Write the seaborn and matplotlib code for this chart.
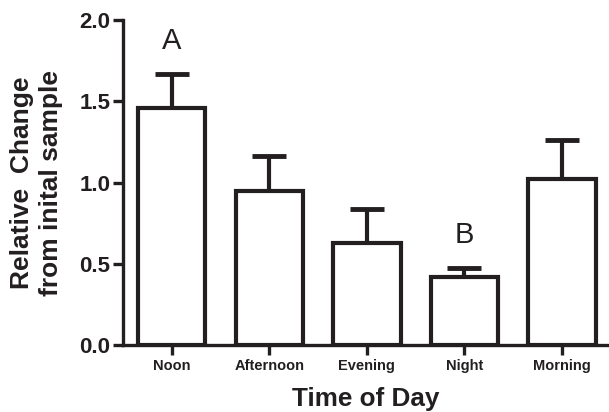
import numpy as np
import pandas as pd
import matplotlib
matplotlib.use("Agg")
import matplotlib.pyplot as plt
import seaborn as sns

categories = ["Noon", "Afternoon", "Evening", "Night", "Morning"]
means = [1.46, 0.95, 0.63, 0.42, 1.02]
errors = [0.21, 0.215, 0.21, 0.055, 0.24]
letters = {"Noon": "A", "Night": "B"}

sns.set_theme(style="ticks")
plt.rcParams['font.family'] = ['Liberation Sans', 'DejaVu Sans']
ink = "#231f20"

df = pd.DataFrame({"Time of Day": categories, "value": means})

fig = plt.figure(figsize=(6.09, 4.12), dpi=100)
ax = fig.add_axes([0.202, 0.1626, 0.796, 0.7887])

sns.barplot(data=df, x="Time of Day", y="value", order=categories, ax=ax,
            color="white", edgecolor=ink, linewidth=3.0, width=0.69,
            errorbar=None, zorder=3)
for p in ax.patches:
    p.set_joinstyle("miter")

xs = np.arange(len(categories))
ax.errorbar(xs, means, yerr=[np.zeros(len(errors)), errors], fmt="none",
            ecolor=ink, elinewidth=3.0, capsize=12, capthick=3.5, zorder=2)

for i, c in enumerate(categories):
    if c in letters:
        ax.text(i, means[i] + errors[i] + 0.2, letters[c], ha="center", va="center",
                fontsize=21, color=ink)

ax.set_ylim(0, 2.0)
ax.set_xlim(-0.5, 4.47)
ax.set_yticks([0.0, 0.5, 1.0, 1.5, 2.0])
ax.set_yticklabels(["0.0", "0.5", "1.0", "1.5", "2.0"])
sns.despine(ax=ax)
for s in ["left", "bottom"]:
    ax.spines[s].set_linewidth(2.4)
    ax.spines[s].set_color(ink)
ax.tick_params(axis="y", length=7, width=2.4, color=ink, labelsize=16, pad=2, labelcolor=ink)
ax.tick_params(axis="x", length=7, width=2.4, color=ink, labelsize=10.5, pad=3, labelcolor=ink)
for lbl in ax.get_yticklabels() + ax.get_xticklabels():
    lbl.set_fontweight("bold")

ax.set_xlabel("Time of Day", fontsize=18.8, fontweight="bold", color=ink, labelpad=10)
ax.set_ylabel("Relative  Change\nfrom inital sample", fontsize=19, fontweight="bold",
              color=ink, labelpad=12, linespacing=1.25)
ax.grid(False)

fig.savefig("out.png", dpi=100)
